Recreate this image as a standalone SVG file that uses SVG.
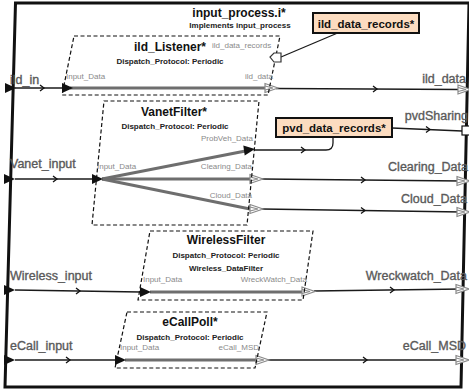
<svg xmlns="http://www.w3.org/2000/svg" xmlns:xlink="http://www.w3.org/1999/xlink" width="469" height="391" viewBox="0 0 469 391">
<style>
text{font-family:"Liberation Sans",Arial,sans-serif}
.ttl{font-size:12px;font-weight:bold;fill:#111}
.sub{font-size:8px;font-weight:bold;fill:#222}
.port{font-size:8px;fill:#8a8a8a}
.ext{font-size:12.5px;fill:#5a5a5a;stroke:#5a5a5a;stroke-width:0.35}
.comp{fill:none;stroke:#111;stroke-width:1.2;stroke-dasharray:4,2.5}
.thin{fill:none;stroke:#1a1a1a;stroke-width:1.3}
.thick{fill:none;stroke:#6e6e6e;stroke-width:3}
.chev{fill:none;stroke:#111;stroke-width:1.3}
.open{fill:#fff;stroke:#8a8a8a;stroke-width:1.2}
.fill{fill:#111}
.data{fill:#fcdcc0;stroke:#111;stroke-width:2}
.dlbl{font-size:11.5px;font-weight:bold;fill:#111}
</style>
<defs>
<path id="tri" d="M0,-5 L11,0 L0,5 Z"/>
<path id="chv" d="M-2,-3 L2,0 L-2,3"/>
<g id="oarr"><path d="M0,-4.5 L13,0 L0,4.5 Z"/><path d="M0,-2 L8,0 L0,2" fill="none"/></g>
</defs>

<g id="frame">
<path d="M15.5,3 L469,3 L461,387 L5,387 Z" fill="none" stroke="#111" stroke-width="3"/>
<text class="ttl" x="239" y="17" text-anchor="middle">input_process.i*</text>
<text class="sub" x="240" y="28" text-anchor="middle" font-size="7.5">Implements input_process</text>
</g>

<g id="connectors">
<!-- ild row -->
<path class="thin" d="M15,88 L62,88"/>
<use xlink:href="#chv" class="chev" transform="translate(42,88)"/>
<path class="thick" d="M70,88 L266,88"/>
<path class="thin" d="M276,88.5 L462,89.5"/>
<use xlink:href="#chv" class="chev" transform="translate(375,89)"/>
<path class="thin" d="M281,57 L340,32"/>
<!-- vanet row -->
<path class="thin" d="M15,179 L92,179"/>
<use xlink:href="#chv" class="chev" transform="translate(55,179)"/>
<path class="thick" d="M102,179 L248,150.5"/>
<path class="thick" d="M102,179 L250,179"/>
<path class="thick" d="M102,179 L250,209"/>
<path class="thin" d="M254,150 L326,150 Q333,150 333,143 L333,137"/>
<use xlink:href="#chv" class="chev" transform="translate(303,150)"/>
<path class="thin" d="M392,128 L462,131"/>
<use xlink:href="#chv" class="chev" transform="translate(428,129.5)"/>
<path class="thin" d="M262,179 L462,181"/>
<use xlink:href="#chv" class="chev" transform="translate(363,180)"/>
<path class="thin" d="M262,209 L462,212"/>
<use xlink:href="#chv" class="chev" transform="translate(363,210.5)"/>
<!-- wireless row -->
<path class="thin" d="M15,290 L140,292"/>
<use xlink:href="#chv" class="chev" transform="translate(78,291)"/>
<path class="thick" d="M150,292 L303,292"/>
<path class="thin" d="M314,291 L462,289"/>
<use xlink:href="#chv" class="chev" transform="translate(392,290)"/>
<!-- ecall row -->
<path class="thin" d="M15,360 L115,360"/>
<use xlink:href="#chv" class="chev" transform="translate(68,360)"/>
<path class="thick" d="M125,360 L257,360"/>
<path class="thin" d="M268,360 L462,360"/>
<use xlink:href="#chv" class="chev" transform="translate(365,360)"/>
<!-- entry triangles at frame -->
<use xlink:href="#tri" class="fill" transform="translate(5,88)"/>
<use xlink:href="#tri" class="fill" transform="translate(4,179)"/>
<use xlink:href="#tri" class="fill" transform="translate(4,290)"/>
<use xlink:href="#tri" class="fill" transform="translate(4,360)"/>
<!-- component input triangles -->
<use xlink:href="#tri" class="fill" transform="translate(62,88)"/>
<use xlink:href="#tri" class="fill" transform="translate(92,179)"/>
<use xlink:href="#tri" class="fill" transform="translate(140,292)"/>
<use xlink:href="#tri" class="fill" transform="translate(115,360)"/>
<use xlink:href="#tri" class="fill" transform="translate(244,150.5) rotate(-8)"/>
<!-- component output open arrows -->
<use xlink:href="#oarr" class="open" transform="translate(265,88)"/>
<use xlink:href="#oarr" class="open" transform="translate(250,179)"/>
<use xlink:href="#oarr" class="open" transform="translate(250,209)"/>
<use xlink:href="#oarr" class="open" transform="translate(302,291.5)"/>
<use xlink:href="#oarr" class="open" transform="translate(256,360)"/>
<!-- frame output open arrows -->
<use xlink:href="#oarr" class="open" transform="translate(458,89.5)"/>
<use xlink:href="#oarr" class="open" transform="translate(457,181)"/>
<use xlink:href="#oarr" class="open" transform="translate(457,212)"/>
<use xlink:href="#oarr" class="open" transform="translate(456,289)"/>
<use xlink:href="#oarr" class="open" transform="translate(456,360)"/>
<rect x="462" y="126" width="8" height="9" fill="#fff" stroke="#111" stroke-width="1.2"/>
</g>

<g id="ext-labels">
<text class="ext" x="10" y="84">ild_in</text>
<text class="ext" x="10" y="168">Vanet_input</text>
<text class="ext" x="10" y="280">Wireless_input</text>
<text class="ext" x="10" y="350">eCall_input</text>
<text class="ext" x="466" y="83" text-anchor="end">ild_data</text>
<text class="ext" x="468" y="120" text-anchor="end">pvdSharing</text>
<text class="ext" x="468" y="171" text-anchor="end">Clearing_Data</text>
<text class="ext" x="467" y="203" text-anchor="end">Cloud_Data</text>
<text class="ext" x="467" y="280" text-anchor="end">Wreckwatch_Data</text>
<text class="ext" x="466" y="350" text-anchor="end">eCall_MSD</text>
</g>

<g id="ild_Listener">
<path class="comp" d="M74,36 L280,36 L268,95 L62,95 Z"/>
<text class="ttl" x="170" y="51" text-anchor="middle">ild_Listener*</text>
<text class="port" x="212" y="48">ild_data_records</text>
<text class="sub" x="170" y="64" text-anchor="middle">Dispatch_Protocol: Periodic</text>
<text class="port" x="66" y="79">Input_Data</text>
<text class="port" x="273" y="79" text-anchor="end">ild_data</text>
<path d="M281,53 L274,53 L270,57 L274,62 L281,62 Z" fill="#fff" stroke="#333" stroke-width="1.2"/>
</g>

<g id="ild_data_records">
<rect class="data" x="313" y="13" width="106" height="20"/>
<text class="dlbl" x="366" y="27.5" text-anchor="middle">ild_data_records*</text>
</g>

<g id="pvd_data_records">
<rect class="data" x="276" y="118" width="116" height="19"/>
<text class="dlbl" x="334" y="132" text-anchor="middle">pvd_data_records*</text>
</g>

<g id="VanetFilter">
<path class="comp" d="M104,101 L259,101 L247,225 L92,225 Z"/>
<text class="ttl" x="174" y="116" text-anchor="middle">VanetFilter*</text>
<text class="sub" x="175" y="129" text-anchor="middle">Dispatch_Protocol: Periodic</text>
<text class="port" x="253" y="141" text-anchor="end">ProbVeh_Data</text>
<text class="port" x="97" y="169">Input_Data</text>
<text class="port" x="252" y="169" text-anchor="end">Clearing_Data</text>
<text class="port" x="252" y="198" text-anchor="end">Cloud_Data</text>
</g>

<g id="WirelessFilter">
<path class="comp" d="M150,231 L313,231 L303,300 L138,300 Z"/>
<text class="ttl" x="226" y="244" text-anchor="middle">WirelessFilter</text>
<text class="sub" x="226" y="258" text-anchor="middle">Dispatch_Protocol: Periodic</text>
<text class="sub" x="226" y="271" text-anchor="middle">Wireless_DataFilter</text>
<text class="port" x="143" y="282">Input_Data</text>
<text class="port" x="307" y="282" text-anchor="end">WreckWatch_Data</text>
</g>

<g id="eCallPoll">
<path class="comp" d="M127,312 L267,312 L255,368 L115,368 Z"/>
<text class="ttl" x="190" y="326" text-anchor="middle">eCallPoll*</text>
<text class="sub" x="190" y="340" text-anchor="middle">Dispatch_Protocol: Periodic</text>
<text class="port" x="120" y="350">Input_Data</text>
<text class="port" x="259" y="350" text-anchor="end">eCall_MSD</text>
</g>
</svg>
